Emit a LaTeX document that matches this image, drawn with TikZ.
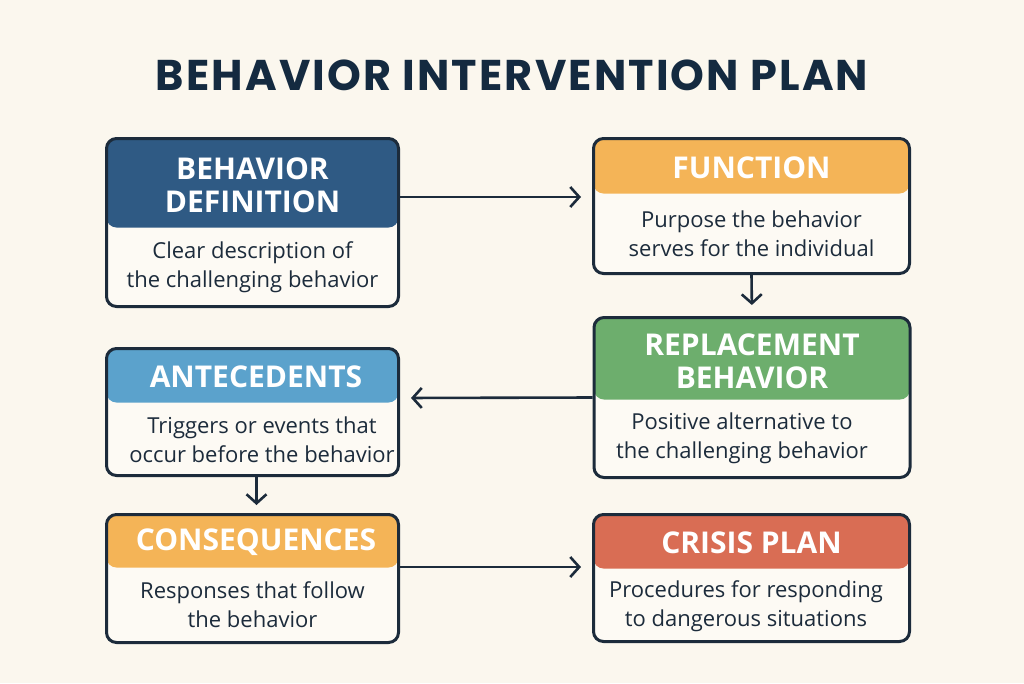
\documentclass[tikz,border=0pt]{standalone}
\usepackage{fontspec}
\setmainfont{Open Sans}
\newfontfamily\titlefont{Poppins}[LetterSpace=5]
\usetikzlibrary{arrows.meta}

\definecolor{bgcream}{HTML}{FBF7EE}
\definecolor{cardwhite}{HTML}{FDFAF4}
\definecolor{inkdark}{HTML}{1C2B3B}
\definecolor{titleink}{HTML}{142A40}
\definecolor{navyhead}{HTML}{2F5A84}
\definecolor{skyhead}{HTML}{5BA2CC}
\definecolor{amberhead}{HTML}{F4B457}
\definecolor{leafhead}{HTML}{6DAE6D}
\definecolor{brickhead}{HTML}{D96D54}

\tikzset{
  panel/.style n args={4}{draw=inkdark, line width=3pt, rounded corners=10pt, fill=cardwhite,
    minimum width=#2, minimum height=#3, inner sep=0pt,
    path picture={\fill[#1] (path picture bounding box.north west) rectangle ([yshift=-#4]path picture bounding box.north east);}},
  headtxt/.style={text=white, align=center, font=\bfseries\fontsize{30}{33}\selectfont},
  bodytxt/.style={text=inkdark, align=center, font=\fontsize{22}{29}\selectfont},
  link/.style={draw=inkdark, line width=2.6pt, -{Straight Barb[length=9pt,width=20pt]}, shorten >=11pt}
}

\begin{document}
\begin{tikzpicture}[x=1pt, y=-1pt]
\fill[bgcream] (0,0) rectangle (1024,683);
\useasboundingbox (0,0) rectangle (1024,683);

\node[text=titleink, font=\titlefont\bfseries\fontsize{43}{48}\selectfont] (title) at (512,75) {BEHAVIOR INTERVENTION PLAN};

% left column
\node[panel={navyhead}{292pt}{168pt}{89pt}] (defn) at (252.5,222.5) {};
\node[headtxt] (defnhead) at (252.5,185.5) {BEHAVIOR\\DEFINITION};
\node[bodytxt] (defnbody) at (252.5,267) {Clear description of\\the challenging behavior};

\node[panel={skyhead}{292pt}{127pt}{54pt}] (ante) at (252.5,412) {};
\node[headtxt] (antehead) at (256,377) {ANTECEDENTS};
\node[bodytxt] (antebody) at (262,440) {Triggers or events that\\occur before the behavior};

\node[panel={amberhead}{292pt}{128pt}{53pt}] (cons) at (252.5,578.5) {};
\node[headtxt] (conshead) at (256,542) {CONSEQUENCES};
\node[bodytxt] (consbody) at (252.5,605) {Responses that follow\\the behavior};

% right column
\node[panel={amberhead}{316pt}{135pt}{55pt}] (fn) at (751.5,206) {};
\node[headtxt] (fnhead) at (751.5,168) {FUNCTION};
\node[bodytxt] (fnbody) at (751.5,234) {Purpose the behavior\\serves for the individual};

\node[panel={leafhead}{316pt}{160pt}{82pt}] (repl) at (752,397.5) {};
\node[headtxt] (replhead) at (752,361.5) {REPLACEMENT\\BEHAVIOR};
\node[bodytxt] (replbody) at (742,438.5) {Positive alternative to\\the challenging behavior};

\node[panel={brickhead}{316pt}{127pt}{54pt}] (crisis) at (751.5,578) {};
\node[headtxt] (crisishead) at (751.5,543) {CRISIS PLAN};
\node[bodytxt] (crisisbody) at (746,606) {Procedures for responding\\to dangerous situations};

% connectors
\draw[link] ([yshift=25.5pt]defn.east) -- ([yshift=9pt]fn.west);
\draw[link] (fn.south) -- (repl.north);
\draw[link] (repl.west) -- ([yshift=14pt]ante.east);
\draw[link, shorten >=8pt] ([xshift=4pt]ante.south) -- ([xshift=4pt]cons.north);
\draw[link] ([yshift=11.5pt]cons.east) -- ([yshift=11pt]crisis.west);
\end{tikzpicture}
\end{document}
